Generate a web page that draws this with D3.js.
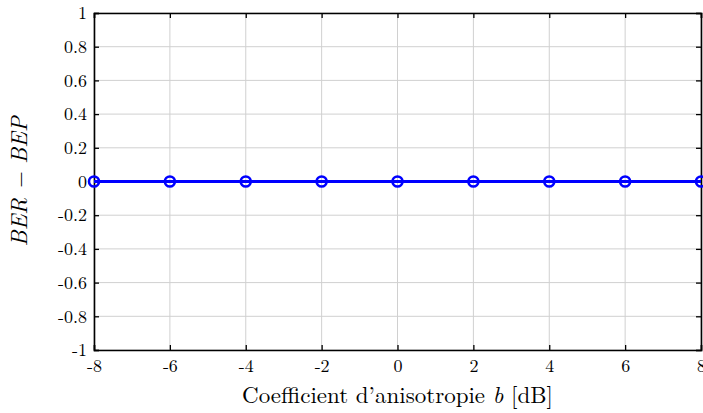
<!DOCTYPE html>
<html><head><meta charset="utf-8">
<script src="https://cdn.jsdelivr.net/npm/d3@7"></script>
<style>body{margin:0;background:#fff}svg{display:block}text{font-family:"Latin Modern Roman","Liberation Serif","DejaVu Serif",serif}</style>
</head><body>
<svg id="c" width="703" height="413"></svg>
<script>
const xValues = [-8, -6, -4, -2, 0, 2, 4, 6, 8];
const yValues = [0, 0, 0, 0, 0, 0, 0, 0, 0];
const xTicks = [-8, -6, -4, -2, 0, 2, 4, 6, 8];
const yTicks = [-1, -0.8, -0.6, -0.4, -0.2, 0, 0.2, 0.4, 0.6, 0.8, 1];
const xLabel = "Coefficient d\u2019anisotropie ";
const yLabel = "BER \u2212 BEP";

const svg = d3.select("#c");
const L = 94, R = 701, T = 13, B = 350;
const x = d3.scaleLinear().domain([-8, 8]).range([L, R]);
const y = d3.scaleLinear().domain([-1, 1]).range([B, T]);

// grid
svg.append("g").selectAll("line").data(xTicks).join("line")
  .attr("x1", d => x(d)).attr("x2", d => x(d)).attr("y1", T).attr("y2", B)
  .attr("stroke", "#d0d0d0").attr("stroke-width", 1);
svg.append("g").selectAll("line").data(yTicks).join("line")
  .attr("y1", d => y(d)).attr("y2", d => y(d)).attr("x1", L).attr("x2", R)
  .attr("stroke", "#d0d0d0").attr("stroke-width", 1);

const gx = svg.append("g").attr("transform", `translate(0,${B})`)
  .call(d3.axisBottom(x).tickValues(xTicks).tickSize(-5).tickPadding(9).tickFormat(d => String(d)));
const gy = svg.append("g").attr("transform", `translate(${L},0)`)
  .call(d3.axisLeft(y).tickValues(yTicks).tickSize(-5).tickPadding(7).tickFormat(d => String(d)));
const gx2 = svg.append("g").attr("transform", `translate(0,${T})`)
  .call(d3.axisTop(x).tickValues(xTicks).tickSize(-5).tickFormat(""));
const gy2 = svg.append("g").attr("transform", `translate(${R},0)`)
  .call(d3.axisRight(y).tickValues(yTicks).tickSize(-5).tickFormat(""));
[gx, gy, gx2, gy2].forEach(g => {
  g.attr("font-size", null);
  g.select(".domain").attr("stroke", "#000").attr("stroke-width", 1.6);
  g.selectAll(".tick line").attr("stroke", "#000").attr("stroke-width", 1.3);
  g.selectAll("text").attr("fill", "#000").style("font-size", "18px")
    .style("font-family", '"Latin Modern Roman","Liberation Serif",serif');
});
gx.selectAll("text").attr("dy", "0.71em");

// line
const pts = xValues.map((v, i) => [v, yValues[i]]);
svg.append("path").datum(pts)
  .attr("d", d3.line().x(d => x(d[0])).y(d => y(d[1])))
  .attr("fill", "none").attr("stroke", "#0000ff").attr("stroke-width", 3);
svg.append("g").selectAll("circle").data(pts).join("circle")
  .attr("cx", d => x(d[0])).attr("cy", d => y(d[1])).attr("r", 5)
  .attr("fill", "none").attr("stroke", "#0000ff").attr("stroke-width", 2.6);

// labels
const xl = svg.append("text").attr("x", (L + R) / 2).attr("y", 403)
  .attr("text-anchor", "middle").style("font-size", "23px").attr("fill", "#000");
xl.append("tspan").text(xLabel);
xl.append("tspan").style("font-style", "italic").text("b");
xl.append("tspan").text(" [dB]");

svg.append("text").attr("transform", `translate(27,${(T + B) / 2}) rotate(-90)`)
  .attr("text-anchor", "middle").style("font-size", "23px").style("font-style", "italic")
  .attr("fill", "#000").text(yLabel);
</script>
</body></html>
